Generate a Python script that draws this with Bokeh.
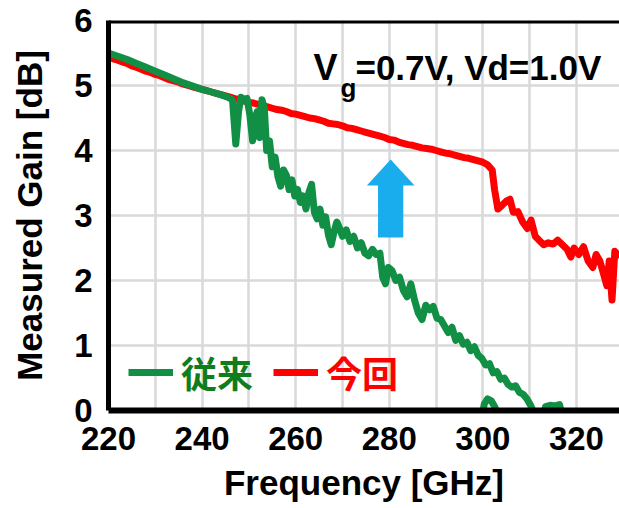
from bokeh.plotting import figure
from bokeh.models import FixedTicker, Legend, LegendItem, Label, Span
from bokeh.embed import file_html
from bokeh.resources import INLINE

nan = float("nan")

# ---- data ----
freq_new = [220, 221, 222, 223, 224, 225, 226, 227, 228, 229, 230, 231, 232, 233, 234, 235,
            236, 237, 238, 239, 240, 241, 242, 243, 244, 245, 246, 247, 248, 249, 250, 251,
            252, 253, 254, 255, 256, 257, 258, 259, 260, 261, 262, 263, 264, 265, 266, 267,
            268, 269, 270, 271, 272, 273, 274, 275, 276, 277, 278, 279, 280, 281, 282, 283,
            284, 285, 286, 287, 288, 289, 290, 291, 292, 293, 294, 295, 296, 297, 298, 299,
            300, 301, 302, 302.5, 303.2, 304, 305, 305.8, 306.5, 307.5, 308.5, 309.5, 310.3,
            311.2, 312, 313, 314, 315, 316, 317, 318, 318.8, 319.5, 320.5, 321.5, 322.5,
            323.5, 324.2, 325, 325.8, 326.5, 327, 327.6, 328.2, 329.2]
gain_new = [5.44, 5.41, 5.39, 5.36, 5.34, 5.30, 5.28, 5.25, 5.22, 5.20, 5.17, 5.15, 5.12, 5.09, 5.07, 5.05,
            5.02, 5.00, 4.98, 4.96, 4.94, 4.92, 4.90, 4.88, 4.86, 4.84, 4.82, 4.80, 4.78, 4.76, 4.74, 4.73,
            4.71, 4.69, 4.67, 4.65, 4.63, 4.62, 4.60, 4.57, 4.56, 4.54, 4.52, 4.50, 4.49, 4.47, 4.45, 4.42,
            4.41, 4.40, 4.38, 4.35, 4.34, 4.32, 4.30, 4.28, 4.26, 4.24, 4.22, 4.20, 4.17, 4.16, 4.13, 4.11,
            4.09, 4.08, 4.06, 4.04, 4.03, 4.02, 4.00, 3.98, 3.96, 3.95, 3.93, 3.91, 3.89, 3.88, 3.86, 3.84,
            3.82, 3.78, 3.70, 3.40, 3.10, 3.15, 3.22, 3.25, 3.05, 3.06, 2.90, 2.80, 2.93,
            2.68, 2.62, 2.55, 2.58, 2.56, 2.62, 2.55, 2.48, 2.36, 2.50, 2.40, 2.52, 2.30,
            2.20, 2.40, 2.30, 2.10, 1.92, 2.30, 1.70, 2.45, 2.35]

freq_old = [220, 222, 224, 226, 228, 230, 232, 234, 236, 238, 240, 242, 244, 245.5, 246.5,
            247.2, 247.8, 248.3, 249, 249.6, 250.2, 250.8, 251.3, 251.8, 252.3, 252.8, 253.3,
            253.8, 254.4, 255, 255.6, 256.2, 256.8, 257.4, 258, 258.6, 259.2, 259.8, 260.4,
            261, 261.6, 262.2, 262.8, 263.4, 264, 264.6, 265.2, 265.8, 266.4, 267, 267.6,
            268.2, 268.8, 269.4, 270, 270.8, 271.6, 272.4, 273.2, 274, 274.8, 275.6, 276.4,
            277.2, 278, 278.6, 279.2, 279.8, 280.6, 281.4, 282.2, 283, 283.8, 284.6, 285.4,
            286.2, 287, 287.8, 288.6, 289.4, 290.2, 291, 291.8, 292.6, 293.4, 294.2, 295,
            295.8, 296.6, 297.4, 298.2, 299, 299.8, 300.6, 301.4, 302.2, 303, 303.8, 304.6,
            305.4, 306.2, 307, 307.8, 308.6, 309.4, 310.2, 311, 312,
            nan, 299.6, 300.3, 301, 301.8, 302.6, 303.4,
            nan, 312.6, 313.4, 314.4, 315.4, 316.4, 317.2]
gain_old = [5.50, 5.45, 5.40, 5.34, 5.28, 5.22, 5.16, 5.10, 5.04, 4.99, 4.94, 4.90, 4.86, 4.82, 4.78,
            4.10, 4.60, 4.82, 4.78, 4.80, 4.55, 4.15, 4.50, 4.60, 4.20, 4.78, 4.65,
            4.00, 4.15, 3.75, 3.90, 3.60, 3.45, 3.70, 3.62, 3.40, 3.55, 3.30, 3.40,
            3.20, 3.30, 3.10, 3.35, 3.48, 3.05, 2.95, 3.10, 2.85, 2.98, 2.70, 2.55,
            2.75, 2.90, 2.80, 2.68, 2.78, 2.60, 2.68, 2.50, 2.58, 2.42, 2.38, 2.48,
            2.40, 2.42, 2.05, 1.95, 2.20, 2.15, 2.00, 2.05, 1.85, 1.75, 1.95, 1.70,
            1.50, 1.40, 1.62, 1.55, 1.60, 1.42, 1.40, 1.30, 1.20, 1.28, 1.08, 1.15,
            1.02, 1.05, 0.92, 0.98, 0.85, 0.80, 0.70, 0.72, 0.58, 0.60, 0.48, 0.50,
            0.40, 0.36, 0.38, 0.28, 0.25, 0.18, 0.08, -0.05, -0.20,
            nan, -0.20, 0.10, 0.18, 0.15, 0.05, -0.20,
            nan, -0.20, 0.06, 0.08, 0.07, 0.09, -0.20]

x_ticks = [220, 240, 260, 280, 300, 320]
x_grid = [220, 230, 240, 250, 260, 270, 280, 290, 300, 310, 320]
y_ticks = [0, 1, 2, 3, 4, 5, 6]

label_old = "従来"
label_new = "今回"

# arrow (annotation): centre frequency, tail, head base, tip, half widths in GHz
arrow_x = 280.3
arrow_tail = 2.66
arrow_head_base = 3.46
arrow_tip = 3.86
arrow_shaft_half = 2.7
arrow_head_half = 5.1

RED = "#FF0000"
GREEN = "#118F45"
GREEN_TEXT = "#0F7D1C"
BLUE = "#1AADEE"
FONT = "Liberation Sans"

p = figure(width=619, height=508, x_range=(220, 329.2), y_range=(0, 6),
           output_backend="svg", toolbar_location=None,
           min_border_left=108, min_border_right=0, min_border_top=20, min_border_bottom=98)
p.outline_line_color = None
p.background_fill_color = "white"
p.border_fill_color = "white"

# grid
p.xgrid.ticker = FixedTicker(ticks=x_grid)
p.ygrid.ticker = FixedTicker(ticks=y_ticks)
for g in (p.xgrid, p.ygrid):
    g.grid_line_color = "#D9D9D9"
    g.grid_line_width = 2.5

# axes
p.xaxis.ticker = FixedTicker(ticks=x_ticks)
p.yaxis.ticker = FixedTicker(ticks=y_ticks)
for ax in (p.xaxis, p.yaxis):
    ax.axis_line_color = "black"
    ax.major_tick_line_color = None
    ax.minor_tick_line_color = None
    ax.major_tick_out = 0
    ax.major_tick_in = 0
    ax.major_label_text_font = FONT
    ax.major_label_text_font_style = "bold"
    ax.major_label_text_font_size = "33px"
    ax.major_label_text_color = "black"
    ax.axis_label_text_font = FONT
    ax.axis_label_text_font_style = "bold"
    ax.axis_label_text_font_size = "35px"
    ax.axis_label_text_color = "black"
p.xaxis.axis_line_width = 6
p.yaxis.axis_line_width = 5
p.xaxis.major_label_standoff = 16
p.yaxis.major_label_standoff = 16
p.xaxis.axis_label = "Frequency [GHz]"
p.yaxis.axis_label = "Measured Gain [dB]"
p.xaxis.axis_label_standoff = 10
p.yaxis.axis_label_standoff = 22

p.add_layout(Span(location=6, dimension="width", line_color="black", line_width=6))

# arrow
ax_ = [arrow_x - arrow_shaft_half, arrow_x + arrow_shaft_half, arrow_x + arrow_shaft_half,
       arrow_x + arrow_head_half, arrow_x, arrow_x - arrow_head_half, arrow_x - arrow_shaft_half]
ay_ = [arrow_tail, arrow_tail, arrow_head_base, arrow_head_base, arrow_tip, arrow_head_base,
       arrow_head_base]
p.patch(ax_, ay_, fill_color=BLUE, line_color=None)

r_new = p.line(freq_new, gain_new, line_color=RED, line_width=7, line_join="round")
r_old = p.line(freq_old, gain_old, line_color=GREEN, line_width=7, line_join="round")

# legends
for r, lab, col, xpos in ((r_old, label_old, GREEN_TEXT, 20), (r_new, label_new, RED, 165)):
    lg = Legend(items=[LegendItem(label=lab, renderers=[r])], location=(xpos, 12),
                orientation="horizontal", glyph_width=45, glyph_height=20,
                label_standoff=8, padding=0, margin=0, spacing=0,
                border_line_color=None, background_fill_alpha=0,
                label_text_font="Noto Sans CJK JP", label_text_font_style="bold",
                label_text_font_size="36px", label_text_color=col)
    p.add_layout(lg)

# condition text
ann_x = 263.8
ann_y = 5.28
for txt, dx, dy, size in (("V", 0, 0, "36px"), ("g", 27, -21, "26px"), ("=0.7V, Vd=1.0V", 42, 0, "35px")):
    p.add_layout(Label(x=ann_x, y=ann_y, x_offset=dx, y_offset=dy, text=txt,
                       text_font=FONT, text_font_style="bold", text_font_size=size,
                       text_color="black", text_baseline="alphabetic", text_align="left"))

open("out.html", "w").write(file_html(p, INLINE))
